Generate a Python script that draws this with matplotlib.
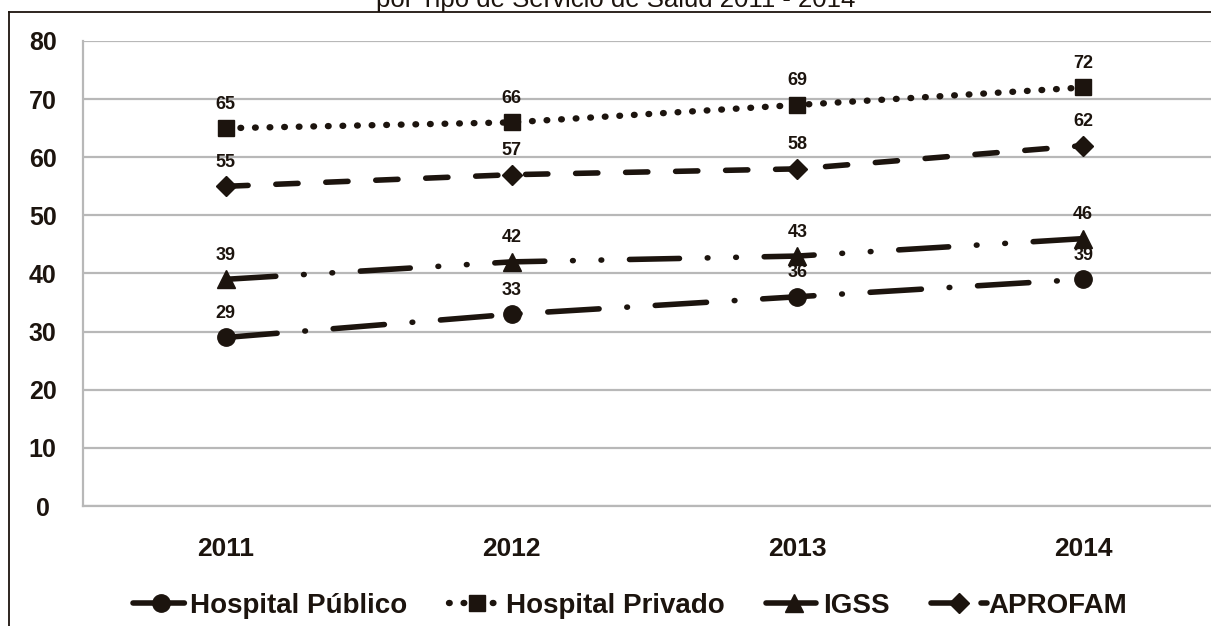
import matplotlib
matplotlib.use("Agg")
import matplotlib.pyplot as plt
from matplotlib.lines import Line2D

plt.rcParams["font.family"] = ["Liberation Sans", "DejaVu Sans"]
plt.rcParams["lines.scale_dashes"] = False

years = ["2011", "2012", "2013", "2014"]
publico = [29, 33, 36, 39]
privado = [65, 66, 69, 72]
igss = [39, 42, 43, 46]
aprofam = [55, 57, 58, 62]

ink = "#1c140e"
grid_col = "#b8b8b8"

fig = plt.figure(figsize=(12.11, 6.26), dpi=100)
ax = fig.add_axes([83 / 1211, 1 - 506 / 626, (1226 - 83) / 1211, (506 - 41) / 626])

x = list(range(len(years)))

series = [
    ("Hospital Público", publico, "o", 12.5, (0, (37, 20, 0.5, 20)), 4.0),
    ("Hospital Privado", privado, "s", 12, (0, (0.5, 10)), 4.6),
    ("IGSS", igss, "^", 12.5, (0, (36, 20, 0.5, 20, 0.5, 20)), 4.0),
    ("APROFAM", aprofam, "D", 10, (0, (16, 20)), 4.0),
]

for name, vals, mk, ms, ls, lw in series:
    ax.plot(x, vals, linestyle=ls, lw=lw, color=ink, marker=mk, markersize=ms,
            dash_capstyle="round", label=name, zorder=3)
    for xi, v in zip(x, vals):
        ax.annotate(str(v), (xi, v), xytext=(0, 14), textcoords="offset points",
                    ha="center", va="baseline", fontsize=13, fontweight="bold",
                    color=ink, zorder=4)

ax.set_xlim(-0.5, 3.5)
ax.set_ylim(0, 80)
ax.set_yticks(range(0, 81, 10))
ax.set_xticks(x)
ax.set_xticklabels(years, fontsize=19, fontweight="bold", color=ink)
ax.set_yticklabels([str(t) for t in range(0, 81, 10)], fontsize=18,
                   fontweight="bold", color=ink, ha="center")
ax.tick_params(axis="y", length=0, pad=29)
ax.tick_params(axis="x", length=0, pad=22)
ax.grid(axis="y", color=grid_col, lw=1.6)
ax.set_axisbelow(True)
for s in ["top", "right"]:
    ax.spines[s].set_visible(False)
ax.spines["left"].set_color(grid_col)
ax.spines["bottom"].set_color(grid_col)
ax.spines["left"].set_linewidth(1.6)
ax.spines["bottom"].set_linewidth(1.6)

fig.legend(loc="center", bbox_to_anchor=(630 / 1211, 1 - 606 / 626), ncol=4,
           frameon=False, prop={"size": 20, "weight": "bold"},
           handlelength=2.0, handletextpad=0.05, columnspacing=1.5,
           labelcolor=ink)

# cropped title and outer frame
fig.text(616 / 1211, 1 - 7 / 626, "por Tipo de Servicio de Salud 2011 - 2014",
         ha="center", va="baseline", fontsize=18.5, color=ink)
fig.add_artist(Line2D([9 / 1211, 1], [1 - 12 / 626, 1 - 12 / 626],
                      transform=fig.transFigure, color=ink, lw=1.3))
fig.add_artist(Line2D([9 / 1211, 9 / 1211], [0, 1 - 12 / 626],
                      transform=fig.transFigure, color=ink, lw=1.3))

fig.savefig("out.png", dpi=100)
